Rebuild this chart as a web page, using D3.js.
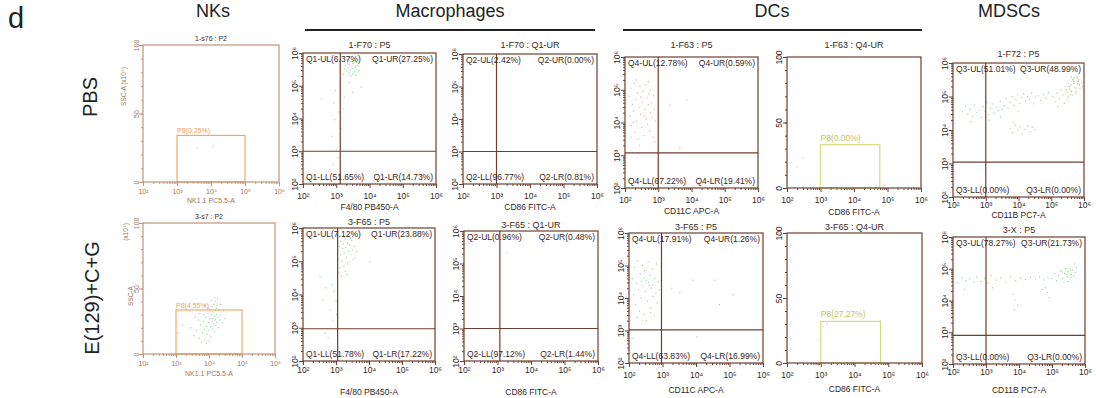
<!DOCTYPE html>
<html>
<head>
<meta charset="utf-8">
<script src="https://cdn.jsdelivr.net/npm/d3@7"></script>
<style>
  body { margin: 0; background: #fff; }
  svg { display: block; font-family: "Liberation Sans", Arial, sans-serif; }
</style>
</head>
<body>
<svg id="chart" width="1096" height="398"></svg>
<script>
// ---- chart content ----
const groupLabels = ['NKs', 'Macrophages', 'DCs', 'MDSCs'];
const rowLabels = ['PBS', 'E(129)+C+G'];
const xAxisLabels = ['NK1.1 PC5.5-A', 'F4/80 PB450-A', 'CD86 FITC-A', 'CD11C APC-A', 'CD86 FITC-A', 'CD11B PC7-A'];
const panelKinds = ['gate', 'quad', 'quad', 'quad', 'gate', 'quad'];
const panelTitles = [
    ['1-s76 : P2', '1-F70 : P5', '1-F70 : Q1-UR', '1-F63 : P5', '1-F63 : Q4-UR', '1-F72 : P5'],
    ['3-s7 : P2', '3-F65 : P5', '3-F65 : Q1-UR', '3-F65 : P5', '3-F65 : Q4-UR', '3-X : P5']
];
const logTicks = [1e2, 1e3, 1e4, 1e5, 1e6];
const linTicks = [0, 50, 100];

// quadrant gates: name, [UL, UR, LL, LR] percent, thresholds as log10 [x, y]
const quadNames = { 1: 'Q1', 2: 'Q2', 3: 'Q4', 5: 'Q3' };
const quadPctPbs = { 1: [6.37, 27.25, 51.65, 14.73], 2: [2.42, 0.00, 96.77, 0.81], 3: [12.78, 0.59, 67.22, 19.41], 5: [51.01, 48.99, 0.00, 0.00] };
const quadPctTx = { 1: [7.12, 23.88, 51.78, 17.22], 2: [0.96, 0.48, 97.12, 1.44], 3: [17.91, 1.26, 63.83, 16.99], 5: [78.27, 21.73, 0.00, 0.00] };
const quadCutPbs = { 1: [3.12, 3.0], 2: [3.0, 3.0], 3: [3.0, 3.07], 5: [3.0, 3.04] };
const quadCutTx = { 1: [3.05, 2.97], 2: [3.07, 3.0], 3: [2.97, 3.02], 5: [3.0, 2.9] };

// rectangle gates: [log10 x from, log10 x to, top %], label percent
const gateBoxPbs = { 0: [3, 5, 34], 4: [3, 4.77, 33] };
const gateBoxTx = { 0: [3, 5, 33.6], 4: [3, 4.77, 32] };
const gatePctPbs = { 0: 0.25, 4: 0.00 };
const gatePctTx = { 0: 4.55, 4: 27.27 };

// events, [log10 x, y] (y is % for gate panels, log10 for quad panels)
const nkPbs = [[3.59, 25], [4.06, 26]];
const nkTx = [[3.55,14],[3.62,18],[3.70,12],[3.74,22],[3.80,16],[3.83,25],[3.86,19],[3.88,11],[3.90,28],[3.93,21],[3.95,15],[3.97,31],[3.99,24],[4.00,18],[4.02,34],[4.03,27],[4.05,21],[4.06,13],[4.08,30],[4.09,25],[4.10,36],[4.11,19],[4.12,32],[4.13,27],[4.14,23],[4.15,38],[4.16,29],[4.17,17],[4.18,33],[4.19,26],[4.20,40],[4.21,22],[4.22,35],[4.23,30],[4.24,24],[4.25,37],[4.27,28],[4.28,20],[4.30,33],[4.32,26],[4.34,38],[4.36,30],[4.40,24],[4.44,33],[3.78,9],[3.92,8],[4.01,10],[3.68,26],[3.85,30],[3.96,35],[4.07,41],[4.18,43],[4.26,42],[3.20,22],[3.05,16],[3.45,20],[3.58,28],[4.48,27],[3.72,31],[3.88,37]];
const macPbs = [[3.28,5.62],[3.33,5.70],[3.36,5.55],[3.40,5.66],[3.42,5.48],[3.45,5.74],[3.47,5.60],[3.50,5.52],[3.52,5.68],[3.55,5.42],[3.57,5.58],[3.60,5.71],[3.62,5.50],[3.38,5.38],[3.44,5.30],[3.31,5.45],[3.49,5.36],[3.58,5.32],[3.65,5.62],[3.25,5.52],[3.35,5.80],[3.54,5.78],[3.40,5.85],[3.68,5.46],[3.22,5.35],[3.39,5.10],[3.50,4.80],[3.24,4.66],[3.75,4.96],[2.56,4.60],[2.92,4.47],[2.95,3.96],[2.86,3.46],[3.00,3.05],[3.08,4.20],[3.15,3.70],[2.98,4.85],[3.12,5.05],[3.05,2.80],[2.90,2.60],[3.20,4.30]];
const macTx = [[3.10,5.45],[3.15,5.60],[3.20,5.38],[3.22,5.52],[3.25,5.25],[3.28,5.66],[3.30,5.42],[3.32,5.12],[3.35,5.55],[3.38,5.30],[3.40,4.98],[3.42,5.48],[3.45,5.20],[3.48,5.62],[3.50,5.35],[3.55,5.45],[3.58,5.10],[3.18,5.00],[3.12,4.80],[3.24,4.85],[3.08,4.65],[3.16,4.55],[3.28,4.70],[3.05,4.40],[3.36,4.92],[3.44,5.70],[3.26,5.72],[3.52,5.05],[3.14,5.20],[3.06,5.05],[3.34,4.60],[3.62,5.30],[2.52,4.53],[2.60,3.83],[2.82,3.53],[2.90,3.23],[2.67,2.84],[2.76,2.70],[4.03,4.98],[2.95,4.10],[3.00,3.80],[2.88,4.30],[3.02,3.40],[2.70,4.20]];
const macCd86Pbs = [];
const macCd86Tx = [[3.28, 5.32]];
const dcPbs = [[2.12,4.80],[2.15,4.20],[2.18,5.05],[2.20,3.90],[2.22,4.55],[2.25,4.35],[2.28,5.20],[2.30,3.70],[2.32,4.70],[2.35,4.05],[2.38,4.90],[2.40,3.50],[2.42,4.45],[2.45,5.10],[2.47,4.25],[2.50,3.85],[2.52,4.62],[2.55,4.95],[2.57,3.60],[2.60,4.40],[2.62,5.15],[2.64,4.10],[2.66,4.75],[2.68,3.95],[2.70,4.55],[2.72,4.88],[2.74,3.75],[2.76,4.30],[2.78,5.00],[2.80,4.60],[2.82,4.15],[2.84,3.55],[2.86,4.82],[2.88,4.40],[2.90,3.40],[2.26,4.00],[2.44,3.30],[2.58,4.20],[2.34,5.30],[2.48,4.78],[2.70,5.25],[2.18,3.55],[2.92,4.05],[2.36,2.92],[3.35,4.53],[3.86,4.69],[3.65,3.22]];
const dcTx = [[2.10,4.60],[2.14,4.10],[2.17,4.95],[2.20,3.80],[2.23,4.45],[2.26,5.15],[2.29,4.25],[2.31,3.60],[2.34,4.75],[2.37,4.00],[2.40,5.00],[2.42,4.35],[2.45,3.50],[2.47,4.85],[2.50,4.20],[2.52,4.55],[2.55,3.90],[2.57,5.10],[2.60,4.40],[2.62,4.70],[2.65,3.70],[2.67,4.30],[2.70,4.90],[2.72,4.05],[2.75,3.45],[2.77,4.60],[2.80,4.15],[2.82,5.05],[2.85,3.85],[2.88,4.50],[2.90,4.25],[2.24,3.40],[2.46,4.62],[2.58,4.48],[2.64,3.55],[2.36,4.52],[2.52,3.30],[2.70,4.40],[2.09,2.77],[3.28,4.30],[3.52,4.18],[3.91,4.55],[4.57,4.55],[5.10,4.10],[4.70,3.80],[4.03,2.80]];
const dcCd86Pbs = [[2.48, 23], [2.30, 16]];
const dcCd86Tx = [[3.07, 28], [3.19, 30], [2.92, 18]];
const mdscPbs = [[2.30,4.55],[2.38,4.70],[2.45,4.48],[2.52,4.62],[2.60,4.40],[2.66,4.75],[2.72,4.52],[2.80,4.60],[2.86,4.38],[2.92,4.70],[2.98,4.55],[3.04,4.82],[3.08,4.46],[3.14,4.65],[3.20,4.78],[3.26,4.50],[3.32,4.68],[3.38,4.58],[3.44,4.85],[3.50,4.62],[3.56,4.72],[3.62,4.95],[3.68,4.66],[3.74,4.82],[3.80,5.00],[3.86,4.74],[3.92,4.90],[3.98,5.05],[4.04,4.80],[4.10,4.96],[4.16,5.08],[4.22,4.86],[4.28,5.00],[4.34,4.92],[4.40,5.10],[4.46,4.78],[4.52,4.98],[4.60,5.02],[4.68,4.88],[4.76,5.06],[4.84,4.94],[4.92,5.12],[2.55,4.25],[3.10,4.30],[3.45,4.40],[4.00,4.55],[3.75,4.05],[3.82,3.92],[3.90,4.15],[3.98,3.98],[4.05,4.10],[4.12,3.88],[4.20,4.02],[4.28,4.12],[4.35,3.95],[4.42,4.08],[4.50,4.00],[3.85,4.22],[5.05,5.00],[5.12,4.85],[5.18,5.10],[5.25,4.95],[5.30,5.20],[5.36,5.05],[5.42,5.30],[5.48,5.12],[5.52,5.40],[5.56,5.22],[5.60,5.35],[5.64,5.05],[5.68,5.45],[5.72,5.28],[5.76,5.15],[5.80,5.38],[5.84,5.50],[5.88,5.25],[5.92,5.40],[5.50,4.90],[5.40,4.80],[5.70,5.55],[5.78,5.60],[5.62,5.58],[5.20,4.70],[5.95,5.30]];
const mdscPbsHigh = [[5.55,5.30],[5.62,5.15],[5.70,5.40],[5.76,5.25],[5.82,5.45],[5.66,5.50],[5.58,5.05],[5.74,5.10],[5.86,5.35],[5.45,5.20],[5.52,4.98],[5.80,5.55]];
const mdscTx = [[2.15,4.55],[2.28,4.72],[2.40,4.62],[2.50,4.68],[2.62,4.58],[2.72,4.75],[2.85,4.60],[2.95,4.70],[3.05,4.55],[3.15,4.78],[3.30,4.64],[3.45,4.70],[3.60,4.58],[3.75,4.74],[3.90,4.62],[4.05,4.70],[4.20,4.66],[4.35,4.72],[4.50,4.68],[4.62,4.75],[4.75,4.65],[4.88,4.72],[2.35,4.35],[3.20,4.40],[3.82,4.20],[3.88,4.02],[3.95,3.85],[3.86,3.70],[4.80,4.40],[4.86,4.25],[4.92,4.10],[4.70,4.35],[5.00,4.70],[5.08,4.85],[5.14,4.62],[5.20,4.78],[5.26,4.92],[5.32,4.70],[5.38,4.85],[5.42,5.00],[5.46,4.75],[5.50,4.90],[5.54,4.68],[5.58,4.82],[5.62,4.96],[5.66,4.78],[5.70,4.88],[5.74,5.05],[5.48,4.60],[5.36,4.58],[5.60,4.72],[5.68,5.15],[5.52,5.02],[5.30,4.95],[5.44,4.82],[5.56,4.95]];

// ---- layout ----
// frame of every plot, plus gaps for title (tt), tick labels (tg) and axis label (lg)
const frames = [
    [
        { x0: 143, y0: 45, x1: 279, y1: 182, tt: 4, tg: 12, lg: 21 },
        { x0: 303, y0: 53, x1: 436, y1: 184, tt: 5, tg: 15, lg: 26 },
        { x0: 463, y0: 54, x1: 597, y1: 184, tt: 6, tg: 15, lg: 26 },
        { x0: 625, y0: 57, x1: 758, y1: 188, tt: 9, tg: 15, lg: 26 },
        { x0: 787, y0: 57, x1: 921, y1: 188, tt: 9, tg: 15, lg: 27 },
        { x0: 953, y0: 63, x1: 1084, y1: 197, tt: 6, tg: 11, lg: 21 }
    ],
    [
        { x0: 143, y0: 223, x1: 275, y1: 354, tt: 4, tg: 12, lg: 22 },
        { x0: 303, y0: 228, x1: 435, y1: 361, tt: 3, tg: 12, lg: 34 },
        { x0: 464, y0: 231, x1: 598, y1: 361, tt: 3, tg: 12, lg: 34 },
        { x0: 629, y0: 233, x1: 763, y1: 363, tt: 3, tg: 15, lg: 30 },
        { x0: 787, y0: 233, x1: 922, y1: 363, tt: 3, tg: 15, lg: 29 },
        { x0: 953, y0: 237, x1: 1085, y1: 364, tt: 4, tg: 11, lg: 29 }
    ]
];
const headerX = [213, 450, 772, 1009];
const headerRules = [[305, 595], [623, 922]];
const rowLabelPos = [[90, 97], [92, 298]];
const sscPos = [[[123, 76], [123, 96]], [[125, 232], [130, 296]]];

const green = '#74c874';
const dotStyle = [
    [{ pts: nkPbs, color: '#e89a80' }, { pts: macPbs, color: green }, { pts: macCd86Pbs, color: green },
     { pts: dcPbs, color: '#ee8a74' }, { pts: dcCd86Pbs, color: '#f0a090' }, { pts: mdscPbs, color: green }],
    [{ pts: nkTx, color: green }, { pts: macTx, color: green }, { pts: macCd86Tx, color: '#eea070' },
     { pts: dcTx, color: green }, { pts: dcCd86Tx, color: '#c8a0a0' }, { pts: mdscTx, color: green }]
];
const sup = { 2: '²', 3: '³', 4: '⁴', 5: '⁵', 6: '⁶' };
const minorLog = d3.range(2, 6).flatMap(e => d3.range(2, 10).map(m => m * Math.pow(10, e)));
const minorLin = d3.range(0, 101, 10);

const svg = d3.select('#chart');

// panel letter, group headings, rules, row labels
svg.append('text').attr('x', 8).attr('y', 28).attr('font-size', 29).attr('fill', '#222').text('d');

svg.selectAll('text.group')
    .data(groupLabels)
    .join('text')
    .attr('class', 'group')
    .attr('x', (d, i) => headerX[i])
    .attr('y', 17)
    .attr('text-anchor', 'middle')
    .attr('font-size', 18)
    .attr('fill', '#222')
    .text(d => d);

svg.selectAll('line.rule')
    .data(headerRules)
    .join('line')
    .attr('class', 'rule')
    .attr('x1', d => d[0]).attr('x2', d => d[1])
    .attr('y1', 30).attr('y2', 30)
    .attr('stroke', '#222')
    .attr('stroke-width', 2);

rowLabels.forEach((t, i) => {
    svg.append('text')
        .attr('transform', `translate(${rowLabelPos[i][0]},${rowLabelPos[i][1]}) rotate(-90)`)
        .attr('text-anchor', 'middle')
        .attr('dominant-baseline', 'central')
        .attr('font-size', 20)
        .attr('fill', '#222')
        .text(t);
});

function vText(g, x, y, txt, size, color) {
    return g.append('text')
        .attr('transform', `translate(${x},${y}) rotate(-90)`)
        .attr('text-anchor', 'middle')
        .attr('dominant-baseline', 'central')
        .attr('font-size', size)
        .attr('fill', color)
        .text(txt);
}

function drawPanel(r, c) {
    const L = frames[r][c];
    const kind = panelKinds[c];
    const small = c === 0;
    const fs = small ? 7 : 8.5;
    const axisColor = small ? '#c09479' : '#6e3f2e';
    const textColor = small ? '#9c7462' : '#33241c';
    const g = svg.append('g');

    const x = d3.scaleLog().domain([1e2, 1e6]).range([L.x0, L.x1]);
    const y = kind === 'quad'
        ? d3.scaleLog().domain([1e2, 1e6]).range([L.y1, L.y0])
        : d3.scaleLinear().domain([0, 100]).range([L.y1, L.y0]);
    const yv = v => kind === 'quad' ? Math.pow(10, v) : v;

    // events
    const ds = dotStyle[r][c];
    g.append('g').selectAll('circle')
        .data(ds.pts)
        .join('circle')
        .attr('cx', d => x(Math.pow(10, d[0])))
        .attr('cy', d => y(yv(d[1])))
        .attr('r', 0.7)
        .attr('fill', ds.color)
        .attr('opacity', 0.7);
    if (r === 0 && c === 5) {
        g.append('g').selectAll('circle')
            .data(mdscPbsHigh)
            .join('circle')
            .attr('cx', d => x(Math.pow(10, d[0])))
            .attr('cy', d => y(Math.pow(10, d[1])))
            .attr('r', 0.7)
            .attr('fill', '#c9885a')
            .attr('opacity', 0.7);
    }

    // x axis
    const xa = g.append('g').attr('transform', `translate(0,${L.y1})`).attr('color', axisColor);
    xa.call(d3.axisBottom(x).tickValues(minorLog).tickSize(2).tickSizeOuter(0).tickFormat(''));
    xa.select('.domain').remove();
    const xb = g.append('g').attr('transform', `translate(0,${L.y1})`).attr('color', axisColor);
    xb.call(d3.axisBottom(x).tickValues(logTicks).tickSize(4).tickSizeOuter(0)
        .tickFormat(d => '10' + sup[Math.round(Math.log10(d))]));
    xb.select('.domain').remove();
    xb.selectAll('.tick text')
        .attr('y', L.tg).attr('dy', null)
        .attr('font-size', fs)
        .attr('font-family', null)
        .attr('fill', textColor);

    g.append('text')
        .attr('x', (L.x0 + L.x1) / 2)
        .attr('y', L.y1 + L.lg)
        .attr('text-anchor', 'middle')
        .attr('font-size', small ? 7 : 8.5)
        .attr('fill', textColor)
        .text(xAxisLabels[c]);

    // y axis
    const ya = g.append('g').attr('transform', `translate(${L.x0},0)`).attr('color', axisColor);
    ya.call(d3.axisLeft(y).tickValues(kind === 'quad' ? minorLog : minorLin).tickSize(2).tickSizeOuter(0).tickFormat(''));
    ya.select('.domain').remove();
    const yb = g.append('g').attr('transform', `translate(${L.x0},0)`).attr('color', axisColor);
    yb.call(d3.axisLeft(y).tickValues(kind === 'quad' ? logTicks : linTicks).tickSize(4).tickSizeOuter(0)
        .tickFormat(d => kind === 'quad' ? '10' + sup[Math.round(Math.log10(d))] : String(d)));
    yb.select('.domain').remove();
    yb.selectAll('.tick text')
        .attr('x', null).attr('dy', null)
        .attr('transform', `translate(${small ? -7 : -8},0) rotate(-90)`)
        .attr('text-anchor', 'middle')
        .attr('dominant-baseline', 'central')
        .attr('font-size', fs)
        .attr('font-family', null)
        .attr('fill', textColor);

    if (small) {
        vText(g, sscPos[r][0][0], sscPos[r][0][1], '(x10⁴)', 6.5, textColor);
        vText(g, sscPos[r][1][0], sscPos[r][1][1], 'SSC-A', 6.5, textColor);
    }

    // gates
    if (kind === 'gate') {
        const box = (r === 0 ? gateBoxPbs : gateBoxTx)[c];
        const pct = (r === 0 ? gatePctPbs : gatePctTx)[c];
        const gc = small ? '#f2a868' : '#d6da78';
        g.append('rect')
            .attr('x', x(Math.pow(10, box[0])))
            .attr('y', y(box[2]))
            .attr('width', x(Math.pow(10, box[1])) - x(Math.pow(10, box[0])))
            .attr('height', y(0) - y(box[2]))
            .attr('fill', 'none')
            .attr('stroke', gc)
            .attr('stroke-width', 1.2);
        g.append('text')
            .attr('x', x(Math.pow(10, box[0])))
            .attr('y', y(box[2]) - (small ? 2 : 4))
            .attr('font-size', small ? 7 : 8.5)
            .attr('fill', small ? '#f0a060' : '#c4c45a')
            .text(`P8(${pct.toFixed(2)}%)`);
    } else {
        const cut = (r === 0 ? quadCutPbs : quadCutTx)[c];
        const pct = (r === 0 ? quadPctPbs : quadPctTx)[c];
        const qn = quadNames[c];
        g.append('line')
            .attr('x1', x(Math.pow(10, cut[0]))).attr('x2', x(Math.pow(10, cut[0])))
            .attr('y1', L.y0).attr('y2', L.y1)
            .attr('stroke', axisColor).attr('stroke-width', 1.2);
        g.append('line')
            .attr('x1', L.x0).attr('x2', L.x1)
            .attr('y1', y(Math.pow(10, cut[1]))).attr('y2', y(Math.pow(10, cut[1])))
            .attr('stroke', axisColor).attr('stroke-width', 1.2);
        const spots = [
            { k: 'UL', x: L.x0 + 3, y: L.y0 + 9, a: 'start' },
            { k: 'UR', x: L.x1 - 3, y: L.y0 + 9, a: 'end' },
            { k: 'LL', x: L.x0 + 3, y: L.y1 - 4, a: 'start' },
            { k: 'LR', x: L.x1 - 3, y: L.y1 - 4, a: 'end' }
        ];
        g.selectAll('text.q')
            .data(spots)
            .join('text')
            .attr('class', 'q')
            .attr('x', d => d.x)
            .attr('y', d => d.y)
            .attr('text-anchor', d => d.a)
            .attr('font-size', 8.5)
            .attr('fill', '#3d2418')
            .text((d, i) => `${qn}-${d.k}(${pct[i].toFixed(2)}%)`);
    }

    // frame and title
    g.append('rect')
        .attr('x', L.x0).attr('y', L.y0)
        .attr('width', L.x1 - L.x0).attr('height', L.y1 - L.y0)
        .attr('fill', 'none')
        .attr('stroke', axisColor)
        .attr('stroke-width', 1.2);
    g.append('text')
        .attr('x', (L.x0 + L.x1) / 2)
        .attr('y', L.y0 - L.tt)
        .attr('text-anchor', 'middle')
        .attr('font-size', small ? 7 : 9)
        .attr('fill', '#3a2a20')
        .text(panelTitles[r][c]);
}

for (let r = 0; r < 2; r++) {
    for (let c = 0; c < 6; c++) drawPanel(r, c);
}
</script>
</body>
</html>
